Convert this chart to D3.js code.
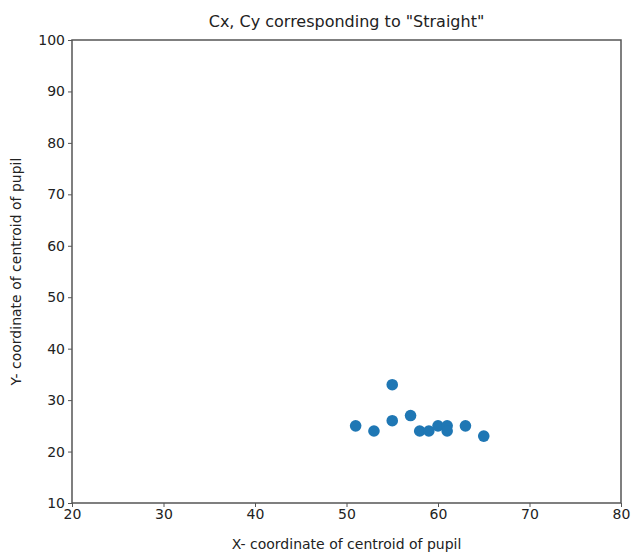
<!DOCTYPE html>
<html>
<head>
<meta charset="utf-8">
<script src="https://cdn.jsdelivr.net/npm/d3@7"></script>
<style>
  body { margin: 0; background: #fff; }
  text { font-family: "DejaVu Sans", sans-serif; fill: #222; }
</style>
</head>
<body>
<svg id="chart" width="632" height="552"></svg>
<script>
var cx = [51, 53, 55, 55, 57, 58, 59, 60, 61, 61, 63, 65];
var cy = [25, 24, 33, 26, 27, 24, 24, 25, 25, 24, 25, 23];
var xTicks = [20, 30, 40, 50, 60, 70, 80];
var yTicks = [10, 20, 30, 40, 50, 60, 70, 80, 90, 100];

var svg = d3.select("#chart"),
  padL = 72, padR = 621, padT = 40, padB = 503;

var x = d3.scaleLinear().domain([20, 80]).range([padL, padR]);
var y = d3.scaleLinear().domain([10, 100]).range([padB, padT]);

svg.append("g").attr("transform", "translate(0," + padB + ")")
  .call(d3.axisBottom(x).tickValues(xTicks).tickSize(4).tickPadding(2));
svg.append("g").attr("transform", "translate(" + padL + ",0)")
  .call(d3.axisLeft(y).tickValues(yTicks).tickSize(4).tickPadding(3));

svg.selectAll(".tick text").style("font-size", "14px").style("fill", "#222");
svg.selectAll(".tick line").attr("stroke", "#555");
svg.selectAll(".domain").remove();

// frame
svg.append("rect")
  .attr("x", padL).attr("y", padT)
  .attr("width", padR - padL).attr("height", padB - padT)
  .attr("fill", "none").attr("stroke", "#555").attr("stroke-width", 1.5);

svg.append("g").selectAll("circle").data(cx).enter().append("circle")
  .attr("cx", function(d) { return x(d); })
  .attr("cy", function(d, i) { return y(cy[i]); })
  .attr("r", 5.8)
  .attr("fill", "#1f77b4");

svg.append("text")
  .attr("x", (padL + padR) / 2).attr("y", 27)
  .attr("text-anchor", "middle")
  .style("font-size", "16px")
  .text("Cx, Cy corresponding to \"Straight\"");

svg.append("text")
  .attr("x", (padL + padR) / 2).attr("y", 549)
  .attr("text-anchor", "middle")
  .style("font-size", "14px")
  .text("X- coordinate of centroid of pupil");

svg.append("text")
  .attr("transform", "translate(21," + (padT + padB) / 2 + ") rotate(-90)")
  .attr("text-anchor", "middle")
  .style("font-size", "14px")
  .text("Y- coordinate of centroid of pupil");
</script>
</body>
</html>
